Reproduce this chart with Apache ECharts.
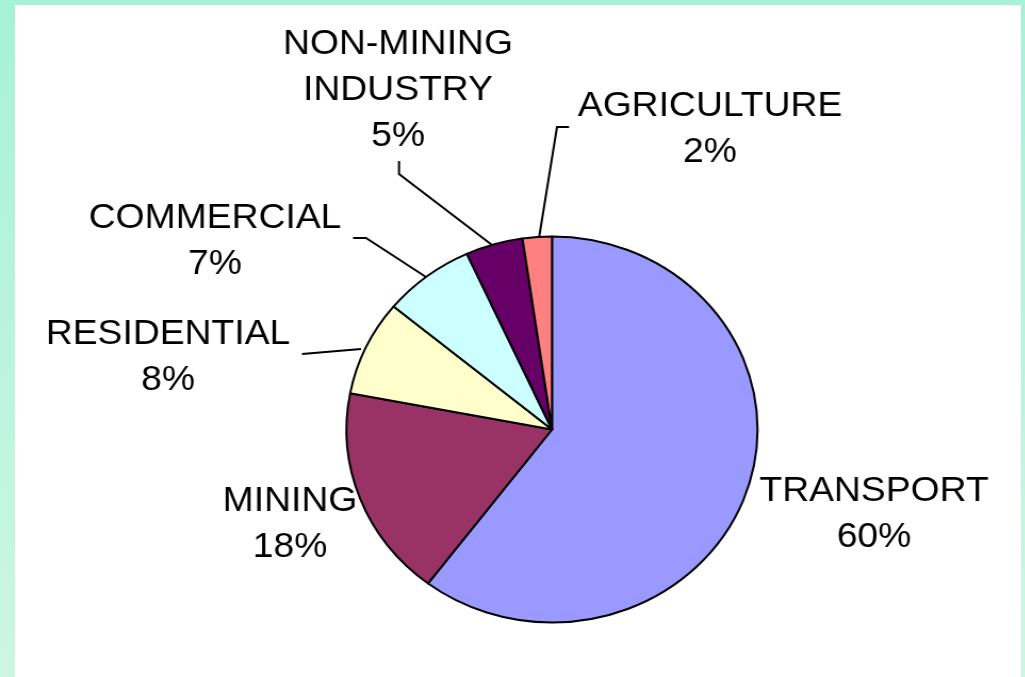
<!DOCTYPE html>
<html>
<head>
<meta charset="utf-8">
<script src="https://cdn.jsdelivr.net/npm/echarts@6/dist/echarts.min.js"></script>
<style>
  html, body { margin: 0; padding: 0; }
  #frame {
    position: relative; width: 1025px; height: 677px; overflow: hidden;
    background: linear-gradient(to bottom, #a6f2d6, #cdf6e2);
  }
  #paper { position: absolute; left: 15px; top: 5px; right: 4px; bottom: 0; background: #fff; }
  /* the original pie is drawn slightly wider than tall, text included */
  #chart { position: absolute; left: 0; top: 0; width: 963px; height: 677px;
           transform: scaleX(1.065); transform-origin: 0 0; }
</style>
</head>
<body>
<div id="frame"><div id="paper"></div><div id="chart"></div></div>
<script>
  // data (clockwise from 12 o'clock)
  const categories = ['TRANSPORT', 'MINING', 'RESIDENTIAL', 'COMMERCIAL', 'NON-MINING\nINDUSTRY', 'AGRICULTURE']
  const shares = [60.3, 17.7, 8.0, 7.2, 4.5, 2.3]
  const colors = ['#9999ff', '#993366', '#ffffcc', '#ccffff', '#660066', '#ff8080']

  const sx = 1.065
  const px = x => x / sx

  // where each label sits and how its leader line runs (page pixels)
  const labelPlace = [
    { x: 874, y: 514 },
    { x: 290, y: 524 },
    { x: 168, y: 357, line: [[302, 354], [361, 349]] },
    { x: 215, y: 241, line: [[353, 238], [366, 238], [426, 277]] },
    { x: 398, y: 90, line: [[399, 161], [399, 174], [492, 245]] },
    { x: 710, y: 129, line: [[569, 127], [557, 127], [539, 238]] }
  ]

  const chart = echarts.init(document.getElementById('chart'))
  chart.setOption({
    animation: false,
    color: colors,
    series: [{
      type: 'pie',
      center: [px(552), 429.5],
      radius: 193,
      startAngle: 90,
      clockwise: true,
      percentPrecision: 0,
      data: categories.map((name, i) => ({
        name: name,
        value: shares[i],
        labelLine: { show: !!labelPlace[i].line }
      })),
      itemStyle: { borderColor: '#000', borderWidth: 2 },
      label: {
        show: true,
        formatter: '{b}\n{d}%',
        fontFamily: 'Liberation Sans, Arial, sans-serif',
        fontSize: 35,
        lineHeight: 46,
        color: '#000',
        align: 'center',
        overflow: 'none'
      },
      labelLine: { show: true, lineStyle: { color: '#000', width: 2 } },
      labelLayout: function (params) {
        const p = labelPlace[params.dataIndex]
        const out = { x: px(p.x), y: p.y, align: 'center', verticalAlign: 'middle' }
        if (p.line) out.labelLinePoints = p.line.map(q => [px(q[0]), q[1]])
        return out
      },
      emphasis: { disabled: true }
    }]
  })
</script>
</body>
</html>
